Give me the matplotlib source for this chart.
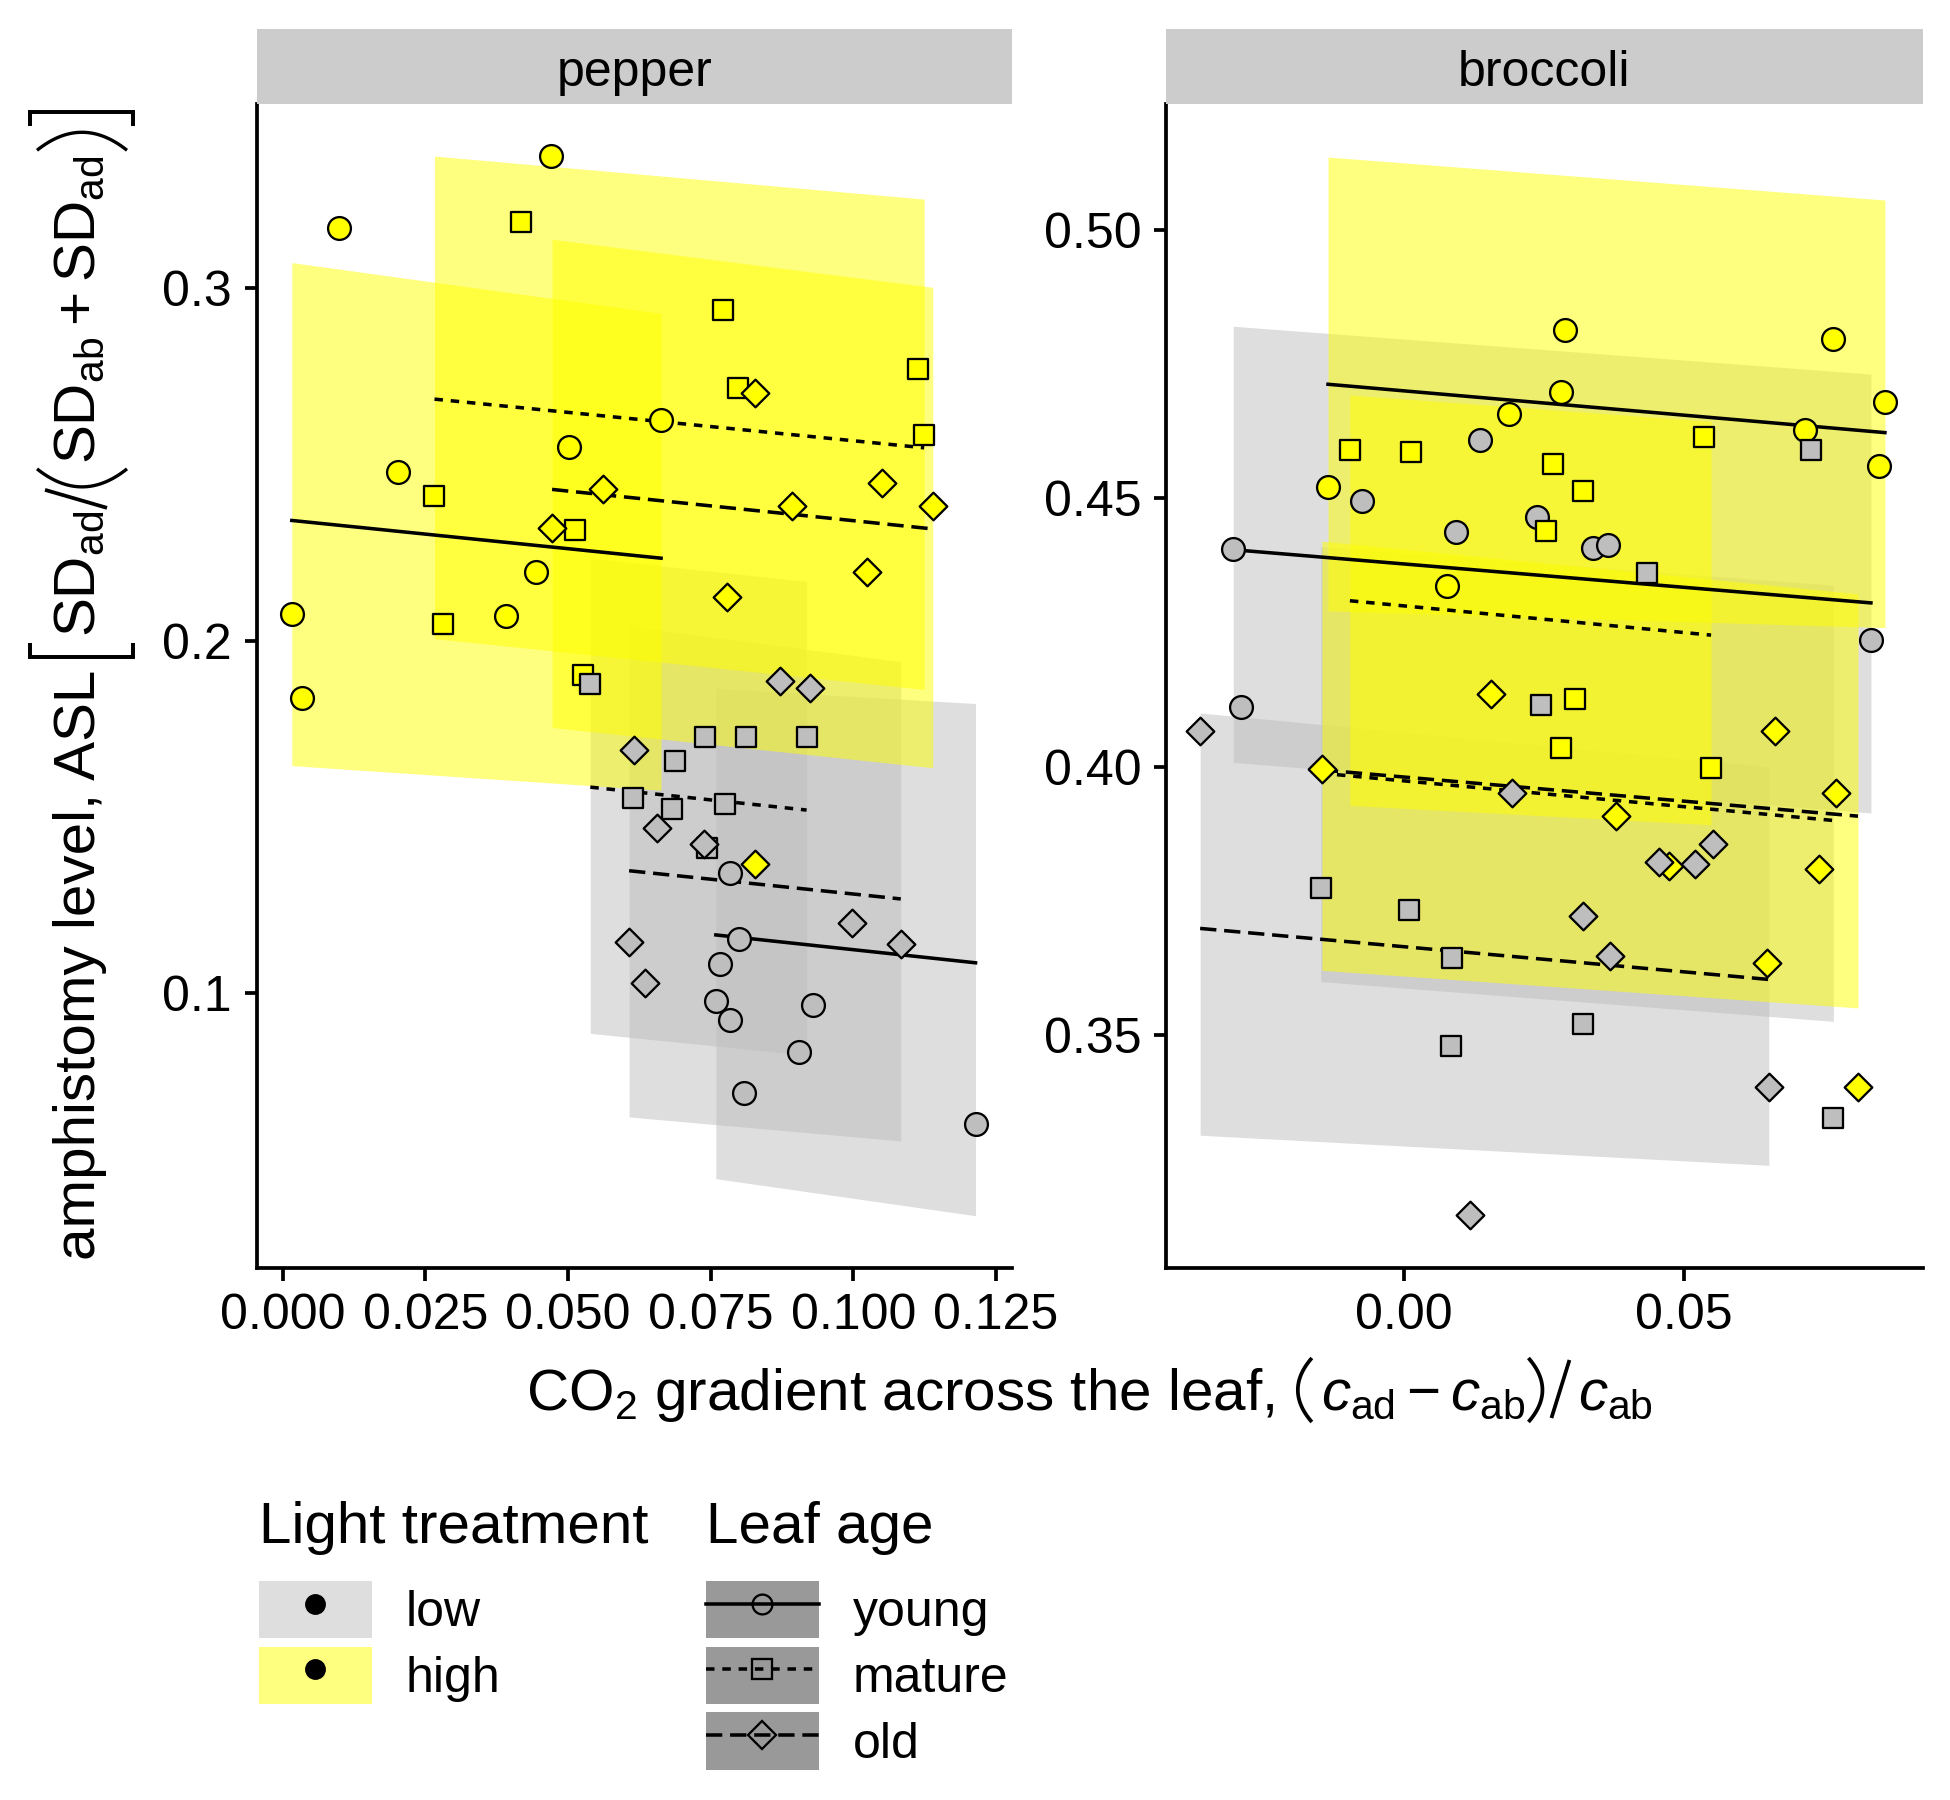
import numpy as np
import matplotlib.pyplot as plt
from matplotlib.patches import Patch
from matplotlib.lines import Line2D
from matplotlib.transforms import IdentityTransform

plt.rcParams['font.family'] = 'Liberation Sans'
plt.rcParams['mathtext.fontset'] = 'custom'
plt.rcParams['mathtext.rm'] = 'Liberation Sans'
plt.rcParams['mathtext.it'] = 'Liberation Sans:italic'
plt.rcParams['mathtext.bf'] = 'Liberation Sans:bold'

# ---- data ----
# point order in both panels: high-young, high-mature, high-old, low-young, low-mature, low-old (9 each)
group_light = ['high'] * 27 + ['low'] * 27
group_age = (['young'] * 9 + ['mature'] * 9 + ['old'] * 9) * 2

pepper_x = [0.0471, 0.0099, 0.0663, 0.0501, 0.0202, 0.0444, 0.0016, 0.0392, 0.0033,
            0.0417, 0.0771, 0.0797, 0.1113, 0.1124, 0.0266, 0.0513, 0.0281, 0.0526,
            0.0827, 0.0561, 0.0472, 0.0892, 0.1050, 0.1139, 0.1023, 0.0779, 0.0828,
            0.0783, 0.0800, 0.0766, 0.0759, 0.0784, 0.0930, 0.0904, 0.0809, 0.1214,
            0.0539, 0.0740, 0.0812, 0.0918, 0.0688, 0.0614, 0.0683, 0.0775, 0.0744,
            0.0872, 0.0924, 0.0615, 0.0655, 0.0738, 0.0997, 0.1083, 0.0607, 0.0635]
pepper_y = [0.3374, 0.3170, 0.2626, 0.2550, 0.2478, 0.2194, 0.2075, 0.2069, 0.1838,
            0.3186, 0.2937, 0.2716, 0.2769, 0.2583, 0.2411, 0.2314, 0.2047, 0.1902,
            0.2701, 0.2429, 0.2320, 0.2382, 0.2446, 0.2383, 0.2195, 0.2123, 0.1368,
            0.1341, 0.1154, 0.1085, 0.0979, 0.0924, 0.0968, 0.0834, 0.0718, 0.0631,
            0.1877, 0.1726, 0.1726, 0.1726, 0.1659, 0.1553, 0.1523, 0.1537, 0.1413,
            0.1887, 0.1865, 0.1690, 0.1469, 0.1424, 0.1199, 0.1141, 0.1146, 0.1030]

broccoli_x = [0.0287, 0.0765, 0.0281, 0.0188, 0.0858, 0.0715, 0.0848, -0.0135, 0.0078,
              -0.0096, 0.0013, 0.0536, 0.0267, 0.0320, 0.0254, 0.0305, 0.0281, 0.0548,
              0.0155, 0.0662, -0.0146, 0.0770, 0.0378, 0.0473, 0.0741, 0.0648, 0.0810,
              0.0136, -0.0075, 0.0093, 0.0237, 0.0338, 0.0365, -0.0304, 0.0833, -0.0291,
              0.0726, 0.0433, 0.0245, -0.0148, 0.0009, 0.0086, 0.0319, 0.0085, 0.0766,
              -0.0363, 0.0193, 0.0456, 0.0519, 0.0551, 0.0319, 0.0367, 0.0651, 0.0119]
broccoli_y = [0.4813, 0.4797, 0.4697, 0.4657, 0.4679, 0.4626, 0.4560, 0.4521, 0.4336,
              0.4589, 0.4585, 0.4614, 0.4563, 0.4514, 0.4438, 0.4127, 0.4035, 0.3997,
              0.4135, 0.4067, 0.3996, 0.3952, 0.3908, 0.3815, 0.3810, 0.3635, 0.3404,
              0.4608, 0.4495, 0.4437, 0.4465, 0.4408, 0.4412, 0.4405, 0.4235, 0.4112,
              0.4589, 0.4361, 0.4115, 0.3774, 0.3734, 0.3644, 0.3521, 0.3480, 0.3347,
              0.4067, 0.3951, 0.3823, 0.3819, 0.3856, 0.3722, 0.3647, 0.3404, 0.3165]

# fitted lines and bands, one per group, same group order as above
fit_light = ['high', 'high', 'high', 'low', 'low', 'low']
fit_age = ['young', 'mature', 'old', 'young', 'mature', 'old']

pepper_x0 = [0.0016, 0.0266, 0.0472, 0.0759, 0.0539, 0.0607]
pepper_x1 = [0.0663, 0.1124, 0.1139, 0.1214, 0.0918, 0.1083]
pepper_fit0 = [0.2341, 0.2685, 0.2429, 0.1166, 0.1585, 0.1348]
pepper_fit1 = [0.2234, 0.2547, 0.2317, 0.1087, 0.1520, 0.1268]
pepper_lo0 = [0.1646, 0.2006, 0.1754, 0.0475, 0.0887, 0.0650]
pepper_lo1 = [0.1576, 0.1862, 0.1640, 0.0370, 0.0825, 0.0582]
pepper_hi0 = [0.3072, 0.3374, 0.3138, 0.1865, 0.2234, 0.2041]
pepper_hi1 = [0.2928, 0.3252, 0.3002, 0.1822, 0.2168, 0.1941]

broccoli_x0 = [-0.0135, -0.0096, -0.0146, -0.0304, -0.0148, -0.0363]
broccoli_x1 = [0.0858, 0.0548, 0.0810, 0.0833, 0.0766, 0.0651]
broccoli_fit0 = [0.4712, 0.4309, 0.3994, 0.4404, 0.3988, 0.3699]
broccoli_fit1 = [0.4622, 0.4245, 0.3908, 0.4305, 0.3900, 0.3604]
broccoli_lo0 = [0.4290, 0.3928, 0.3621, 0.4008, 0.3600, 0.3314]
broccoli_lo1 = [0.4259, 0.3892, 0.3551, 0.3914, 0.3526, 0.3258]
broccoli_hi0 = [0.5135, 0.4692, 0.4420, 0.4820, 0.4410, 0.4100]
broccoli_hi1 = [0.5055, 0.4643, 0.4322, 0.4731, 0.4338, 0.4000]

pepper_xticks = [0.0, 0.025, 0.05, 0.075, 0.1, 0.125]
pepper_xticklabels = ['0.000', '0.025', '0.050', '0.075', '0.100', '0.125']
pepper_yticks = [0.1, 0.2, 0.3]
pepper_yticklabels = ['0.1', '0.2', '0.3']
broccoli_xticks = [0.0, 0.05]
broccoli_xticklabels = ['0.00', '0.05']
broccoli_yticks = [0.35, 0.40, 0.45, 0.50]
broccoli_yticklabels = ['0.35', '0.40', '0.45', '0.50']

lights = ['low', 'high']
ages = ['young', 'mature', 'old']

# ---- styles ----
fill = {'low': '#BEBEBE', 'high': '#FFFF00'}
shape = {'young': 'o', 'mature': 's', 'old': 'D'}
msize = {'young': 120, 'mature': 92, 'old': 88}
dash = {'young': '-', 'mature': (0, (2.4, 2.2)), 'old': (0, (4.6, 2.2))}

fig = plt.figure(figsize=(13, 12), dpi=150)
ax1 = fig.add_axes([0.1318, 0.2956, 0.3872, 0.6467])
ax2 = fig.add_axes([0.5982, 0.2956, 0.3877, 0.6467])


def draw_panel(ax, px, py, x0, x1, m0, m1, lo0, lo1, hi0, hi1):
    # bands: low first, high on top
    for light in ['low', 'high']:
        for i in range(len(x0)):
            if fit_light[i] == light:
                ax.fill_between([x0[i], x1[i]], [lo0[i], lo1[i]], [hi0[i], hi1[i]],
                                color=fill[light], alpha=0.5, lw=0)
    for i in range(len(x0)):
        ax.plot([x0[i], x1[i]], [m0[i], m1[i]], color='black', lw=1.7,
                linestyle=dash[fit_age[i]], zorder=2)
    for age in ages:
        for light in ['high', 'low']:
            sel = [k for k in range(len(px)) if group_age[k] == age and group_light[k] == light]
            ax.scatter([px[k] for k in sel], [py[k] for k in sel], marker=shape[age],
                       s=msize[age], facecolor=fill[light], edgecolor='black',
                       linewidths=1.1, zorder=3)


draw_panel(ax1, pepper_x, pepper_y, pepper_x0, pepper_x1, pepper_fit0, pepper_fit1,
           pepper_lo0, pepper_lo1, pepper_hi0, pepper_hi1)
draw_panel(ax2, broccoli_x, broccoli_y, broccoli_x0, broccoli_x1, broccoli_fit0, broccoli_fit1,
           broccoli_lo0, broccoli_lo1, broccoli_hi0, broccoli_hi1)

ax1.set_xlim(-0.0045, 0.1278)
ax1.set_ylim(0.0222, 0.3522)
ax2.set_xlim(-0.0423, 0.0925)
ax2.set_ylim(0.3067, 0.5234)

ax1.set_xticks(pepper_xticks)
ax1.set_xticklabels(pepper_xticklabels)
ax1.set_yticks(pepper_yticks)
ax1.set_yticklabels(pepper_yticklabels)
ax2.set_xticks(broccoli_xticks)
ax2.set_xticklabels(broccoli_xticklabels)
ax2.set_yticks(broccoli_yticks)
ax2.set_yticklabels(broccoli_yticklabels)

for ax, name in ((ax1, 'pepper'), (ax2, 'broccoli')):
    ax.spines[['top', 'right']].set_visible(False)
    ax.spines[['left', 'bottom']].set_linewidth(1.8)
    ax.tick_params(width=1.8, length=6, labelsize=24, pad=6, colors='black')
    pos = ax.get_position()
    sax = fig.add_axes([pos.x0, pos.y1, pos.width, 0.0417])
    sax.set_facecolor('#CCCCCC')
    sax.set_xticks([])
    sax.set_yticks([])
    for s in sax.spines.values():
        s.set_visible(False)
    sax.text(0.5, 0.24, name, ha='center', va='baseline', fontsize=24, transform=sax.transAxes)

# ---- axis titles with tall delimiters (pieces laid out in pixels) ----
renderer = fig.canvas.get_renderer()
pix = IdentityTransform()


def place_label(items, center, base, vertical):
    lengths, texts = [], []
    for it in items:
        if it[0] == 'text':
            t = fig.text(0, 0, it[1], fontsize=it[2], transform=pix, ha='left', va='baseline',
                         rotation=90 if vertical else 0, rotation_mode='anchor')
            bb = t.get_window_extent(renderer)
            lengths.append(bb.height if vertical else bb.width)
            texts.append(t)
        else:
            lengths.append(it[1] if it[0] == 'gap' else it[2])
            texts.append(None)

    def to_px(uu, vv):
        uu, vv = np.asarray(uu), np.asarray(vv)
        if vertical:
            return base - vv, center + uu
        return center + uu, base + vv

    u = -sum(lengths) / 2
    for it, L, t in zip(items, lengths, texts):
        if it[0] == 'text':
            t.set_position(to_px(u, 0))
        elif it[0] == 'delim':
            kind, w, lo, hi, lw = it[1:]
            s = np.linspace(-1, 1, 40)
            mid, half = (lo + hi) / 2, (hi - lo) / 2
            if kind == '[':
                uu, vv = [u + w, u, u, u + w], [hi, hi, lo, lo]
            elif kind == ']':
                uu, vv = [u, u + w, u + w, u], [hi, hi, lo, lo]
            elif kind == '(':
                uu, vv = u + w * s ** 2, mid + half * s
            elif kind == ')':
                uu, vv = u + w - w * s ** 2, mid + half * s
            else:
                uu, vv = [u, u + w], [lo, hi]
            xs, ys = to_px(uu, vv)
            fig.add_artist(Line2D(xs, ys, transform=pix, color='black', lw=lw,
                                  solid_capstyle='butt', solid_joinstyle='miter'))
        u += L


xlabel_items = [('text', r'CO$_2$ gradient across the leaf,', 28), ('gap', 24),
                ('delim', '(', 14, -12, 52, 1.8), ('gap', 9),
                ('text', r'$c_\mathrm{ad} - c_\mathrm{ab}$', 28), ('gap', 3),
                ('delim', ')', 14, -12, 52, 1.8), ('gap', 9),
                ('delim', '/', 18, -8, 50, 1.8), ('gap', 9),
                ('text', r'$c_\mathrm{ab}$', 28)]
ylabel_items = [('text', 'amphistomy level, ASL', 28), ('gap', 12),
                ('delim', '[', 14, -38, 65, 1.9), ('gap', 6),
                ('text', r'$\mathrm{SD_{ad}}$', 28), ('gap', 3),
                ('delim', '/', 18, -12, 50, 1.8), ('gap', 3),
                ('delim', '(', 18, -32, 58, 1.6), ('gap', 5),
                ('text', r'$\mathrm{SD_{ab}} + \mathrm{SD_{ad}}$', 28), ('gap', 5),
                ('delim', ')', 18, -32, 58, 1.6), ('gap', 6),
                ('delim', ']', 14, -38, 65, 1.9)]
place_label(xlabel_items, center=1089.5, base=1800 - 1410, vertical=False)
place_label(ylabel_items, center=1800 - 686, base=95, vertical=True)

# ---- legends ----
light_handles = [(Patch(facecolor=fill[l], alpha=0.5, edgecolor='none'),
                  Line2D([], [], marker='o', color='black', linestyle='none', markersize=9))
                 for l in lights]
age_handles = [(Patch(facecolor='#999999', edgecolor='none'),
                Line2D([], [], marker=shape[a], color='black', linestyle=dash[a], lw=1.7,
                       markerfacecolor='none', markeredgecolor='black', markersize=9.5,
                       markeredgewidth=1.1))
               for a in ages]

legend_kw = dict(loc='upper left', frameon=False, fontsize=24, title_fontsize=28,
                 alignment='left', handlelength=2.26, handleheight=1.38,
                 handletextpad=0.68, labelspacing=0.17, borderpad=0, borderaxespad=0)
leg1 = fig.legend(light_handles, lights, title='Light treatment',
                  bbox_to_anchor=(0.1328, 0.166), **legend_kw)
leg2 = fig.legend(age_handles, ages, title='Leaf age',
                  bbox_to_anchor=(0.362, 0.166), **legend_kw)
for leg in (leg1, leg2):
    leg._legend_box.sep = 12.5

fig.savefig('out.png', dpi=150)
